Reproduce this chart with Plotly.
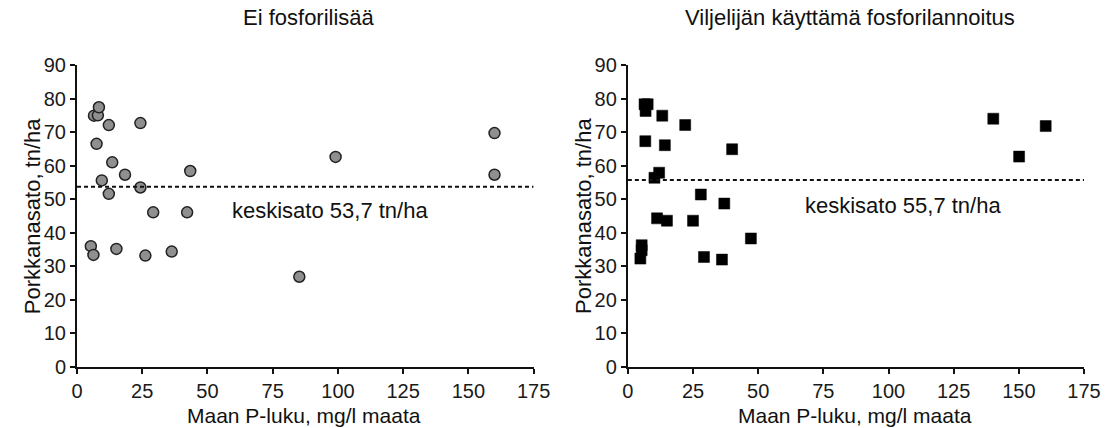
import plotly.graph_objects as go

# Left panel: Ei fosforilisää
p_left = [6.5, 8.0, 8.4, 12.2, 7.5, 13.5, 24.3, 18.4, 9.5, 12.2, 24.3, 43.4, 29.2, 42.2,
          5.3, 6.3, 15.1, 26.2, 36.3, 160, 160, 99.1, 85.2]
y_left = [74.9, 75.0, 77.4, 72.1, 66.5, 61.0, 72.7, 57.3, 55.6, 51.6, 53.5, 58.4, 46.1, 46.1,
          36.0, 33.4, 35.2, 33.2, 34.4, 69.7, 57.3, 62.6, 26.9]
mean_left = 53.7

# Right panel: Viljelijän käyttämä fosforilannoitus
p_right = [6.4, 7.6, 6.8, 13.2, 22.0, 6.7, 14.2, 40.0, 12.0, 10.2, 28.0, 37.0, 11.2, 15.0,
           25.0, 47.2, 5.3, 5.3, 4.8, 29.2, 36.1, 140.2, 160.3, 150.1]
y_right = [78.3, 78.3, 76.3, 74.9, 72.1, 67.3, 66.1, 64.9, 57.9, 56.4, 51.4, 48.7, 44.3, 43.6,
           43.6, 38.3, 36.3, 34.8, 32.3, 32.8, 32.0, 74.0, 71.8, 62.7]
mean_right = 55.7

x_range = [0, 175]
y_range = [0, 90]
x_ticks = [0, 25, 50, 75, 100, 125, 150, 175]
y_ticks = [0, 10, 20, 30, 40, 50, 60, 70, 80, 90]

titles = ["Ei fosforilisää", "Viljelijän käyttämä fosforilannoitus"]
x_title = "Maan P-luku, mg/l maata"
y_title = "Porkkanasato, tn/ha"
mean_labels = ["keskisato 53,7 tn/ha", "keskisato 55,7 tn/ha"]

FONT = "Liberation Sans, Arial, sans-serif"
W, H = 1113, 428
L, R, T, B = 77, 26, 65, 61.3
PW = W - L - R
PH = H - T - B
d1 = [0, 458 / PW]
d2 = [(629.5 - L) / PW, 1]

fig = go.Figure()

fig.add_trace(go.Scatter(x=p_left, y=y_left, mode="markers", xaxis="x", yaxis="y",
                         marker=dict(symbol="circle", size=11, color="#8f8f8f",
                                     line=dict(color="#222222", width=1.5)),
                         showlegend=False))
fig.add_trace(go.Scatter(x=x_range, y=[mean_left, mean_left], mode="lines", xaxis="x", yaxis="y",
                         line=dict(color="#111111", width=2, dash="4px,3px"),
                         showlegend=False))
fig.add_trace(go.Scatter(x=p_right, y=y_right, mode="markers", xaxis="x2", yaxis="y2",
                         marker=dict(symbol="square", size=11, color="#000000",
                                     line=dict(color="#000000", width=0.5)),
                         showlegend=False))
fig.add_trace(go.Scatter(x=x_range, y=[mean_right, mean_right], mode="lines", xaxis="x2", yaxis="y2",
                         line=dict(color="#111111", width=2, dash="4px,3px"),
                         showlegend=False))

axis_common = dict(showline=True, linecolor="#111111", linewidth=2, ticks="outside",
                   ticklen=5, tickwidth=2, tickcolor="#111111", showgrid=False,
                   zeroline=False, tickfont=dict(family=FONT, size=20, color="#1a1a1a"))

fig.update_layout(
    width=W, height=H,
    margin=dict(l=L, r=R, t=T, b=B, pad=0),
    paper_bgcolor="white", plot_bgcolor="white",
    xaxis=dict(domain=d1, range=x_range, tickvals=x_ticks, anchor="y", **axis_common),
    yaxis=dict(domain=[0, 1], range=y_range, tickvals=y_ticks, anchor="x", **axis_common),
    xaxis2=dict(domain=d2, range=x_range, tickvals=x_ticks, anchor="y2", **axis_common),
    yaxis2=dict(domain=[0, 1], range=y_range, tickvals=y_ticks, anchor="x2", **axis_common),
)

for i, (dom, xr, yr) in enumerate([(d1, "x", "y"), (d2, "x2", "y2")]):
    cx = (dom[0] + dom[1]) / 2
    # subplot title
    fig.add_annotation(text=titles[i], xref="paper", yref="paper", x=cx + (0.004 if i == 0 else -0.006),
                       y=(H - B - 18) / PH, xanchor="center", yanchor="middle", showarrow=False,
                       font=dict(family=FONT, size=22, color="#111111"))
    # x title
    fig.add_annotation(text=x_title, xref="paper", yref="paper", x=cx - 0.001,
                       y=-(415 - (H - B)) / PH, xanchor="center", yanchor="middle", showarrow=False,
                       font=dict(family=FONT, size=21, color="#111111"))
    # y title
    fig.add_annotation(text=y_title, xref="paper", yref="paper",
                       x=(dom[0] * PW - 45) / PW, y=0.5, xanchor="center", yanchor="middle",
                       textangle=-90, showarrow=False,
                       font=dict(family=FONT, size=22, color="#111111"))

fig.add_annotation(text=mean_labels[0], xref="x", yref="y", x=58.5, y=46.5,
                   xanchor="left", yanchor="middle", showarrow=False,
                   font=dict(family=FONT, size=22, color="#111111"))
fig.add_annotation(text=mean_labels[1], xref="x2", yref="y2", x=67.2, y=48.2,
                   xanchor="left", yanchor="middle", showarrow=False,
                   font=dict(family=FONT, size=22, color="#111111"))

fig.write_html("out.html")
